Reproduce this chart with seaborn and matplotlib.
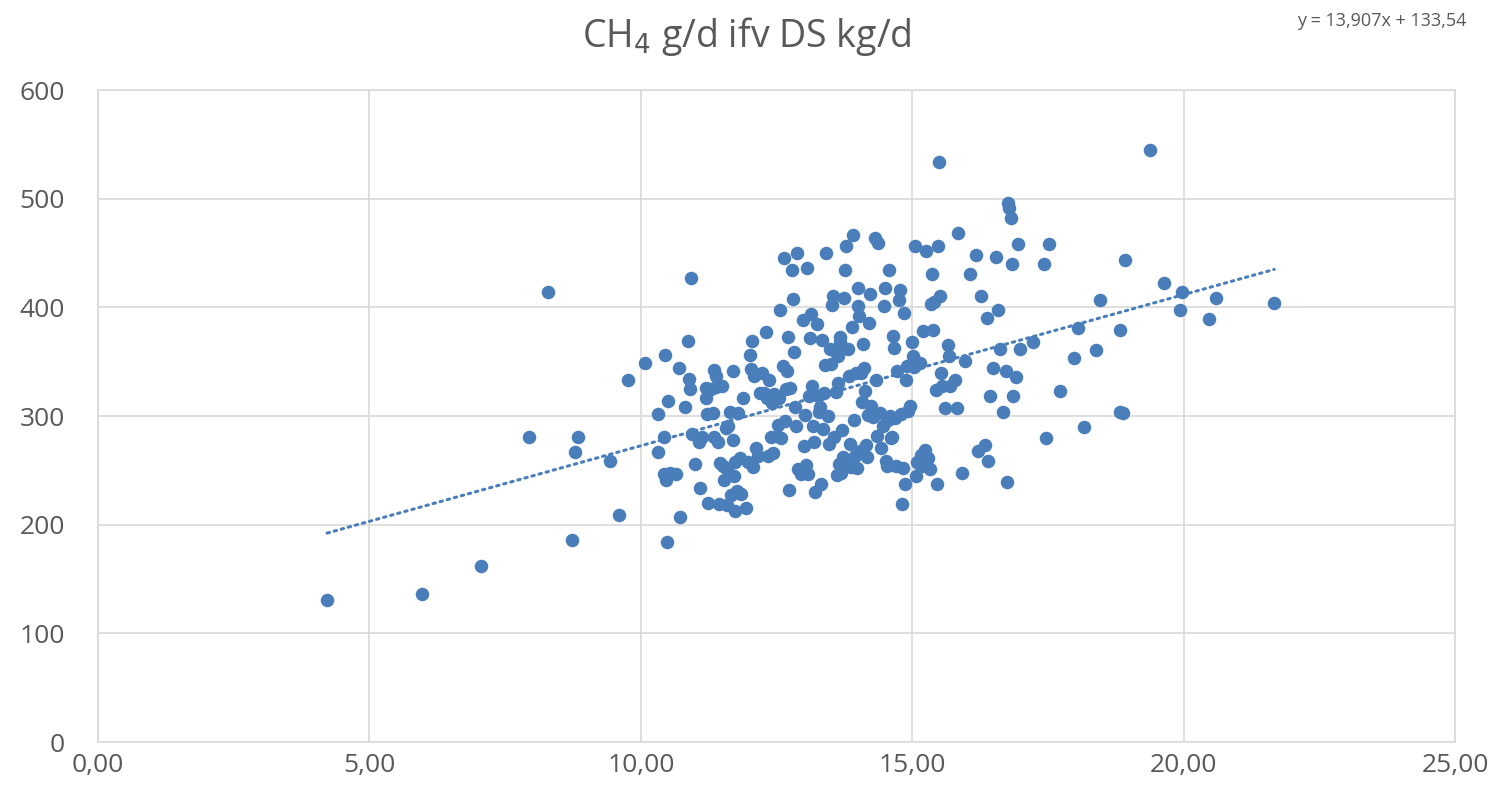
import numpy as np
import pandas as pd
import matplotlib
matplotlib.use("Agg")
import matplotlib.pyplot as plt
import seaborn as sns
from matplotlib.ticker import FuncFormatter

# DS kg/d  vs  CH4 g/d
ds_kg = [
    4.22, 5.97, 7.06, 8.29, 7.94, 8.73, 8.79, 8.85, 9.60, 9.43, 9.76, 10.08, 10.32, 10.32,
    10.45, 10.50, 10.43, 10.43, 10.46, 10.48, 10.54, 10.65, 10.70, 10.72, 10.81, 10.87,
    10.89, 10.90, 10.93, 10.94, 11.00, 11.07, 11.09, 11.13, 11.20, 11.20, 11.22, 11.24,
    11.29, 11.33, 11.35, 11.35, 11.39, 11.39, 11.42, 11.44, 11.46, 11.50, 11.51, 11.53,
    11.57, 11.59, 11.59, 11.61, 11.63, 11.64, 11.66, 11.70, 11.70, 11.72, 11.74, 11.74,
    11.77, 11.79, 11.83, 11.85, 11.88, 11.94, 11.97, 12.01, 12.03, 12.05, 12.07, 12.09,
    12.12, 12.16, 12.20, 12.23, 12.27, 12.31, 12.32, 12.34, 12.36, 12.40, 12.42, 12.44,
    12.45, 12.51, 12.53, 12.55, 12.56, 12.58, 12.62, 12.64, 12.66, 12.68, 12.69, 12.71,
    12.73, 12.75, 12.79, 12.80, 12.82, 12.84, 12.86, 12.88, 12.90, 12.95, 12.99, 13.01,
    13.03, 13.05, 13.06, 13.08, 13.10, 13.12, 13.14, 13.15, 13.17, 13.19, 13.21, 13.25,
    13.26, 13.28, 13.30, 13.32, 13.34, 13.36, 13.38, 13.39, 13.41, 13.45, 13.47, 13.49,
    13.50, 13.52, 13.54, 13.56, 13.58, 13.60, 13.61, 13.63, 13.63, 13.65, 13.67, 13.67,
    13.69, 13.71, 13.73, 13.74, 13.76, 13.78, 13.80, 13.82, 13.84, 13.85, 13.87, 13.89,
    13.91, 13.93, 13.95, 13.96, 13.98, 14.00, 14.00, 14.02, 14.04, 14.06, 14.08, 14.10,
    14.11, 14.13, 14.15, 14.17, 14.19, 14.21, 14.22, 14.24, 14.28, 14.31, 14.33, 14.35,
    14.37, 14.41, 14.43, 14.46, 14.48, 14.50, 14.52, 14.54, 14.55, 14.57, 14.59, 14.61,
    14.63, 14.65, 14.66, 14.68, 14.70, 14.72, 14.76, 14.78, 14.80, 14.81, 14.83, 14.85,
    14.87, 14.89, 14.90, 14.92, 14.96, 15.00, 15.01, 15.03, 15.05, 15.07, 15.09, 15.11,
    15.14, 15.16, 15.18, 15.20, 15.24, 15.25, 15.29, 15.33, 15.35, 15.37, 15.38, 15.40,
    15.44, 15.46, 15.48, 15.49, 15.51, 15.53, 15.55, 15.60, 15.66, 15.68, 15.70, 15.79,
    15.83, 15.84, 15.92, 15.97, 16.06, 16.18, 16.21, 16.27, 16.34, 16.38, 16.40, 16.43,
    16.49, 16.54, 16.58, 16.62, 16.67, 16.73, 16.75, 16.77, 16.78, 16.82, 16.84, 16.86,
    16.91, 16.95, 16.99, 17.23, 17.43, 17.47, 17.52, 17.72, 17.98, 18.05, 18.16, 18.39,
    18.46, 18.83, 18.83, 18.88, 18.92, 19.38, 19.64, 19.93, 19.97, 20.47, 20.60, 21.67,
]
ch4_g = [
    131, 136, 162, 414, 281, 186, 267, 281, 209, 259, 333, 349, 302, 267,
    356, 314, 281, 247, 241, 184, 248, 247, 344, 207, 308, 369,
    334, 325, 427, 283, 256, 276, 234, 281, 317, 326, 302, 220,
    325, 303, 281, 342, 337, 327, 276, 219, 257, 328, 254, 241,
    289, 251, 218, 291, 247, 304, 227, 278, 341, 245, 258, 213,
    231, 303, 261, 228, 317, 215, 258, 356, 343, 369, 253, 337,
    271, 263, 321, 340, 321, 377, 317, 263, 333, 281, 312, 266,
    320, 282, 292, 317, 398, 280, 346, 445, 295, 325, 341, 373,
    232, 326, 434, 408, 359, 308, 291, 450, 251, 247, 388, 272,
    301, 255, 436, 247, 318, 372, 394, 328, 291, 276, 230, 385,
    318, 304, 308, 237, 370, 288, 321, 347, 450, 300, 274, 362,
    348, 402, 410, 281, 360, 322, 246, 355, 330, 256, 373, 368,
    248, 287, 262, 409, 434, 456, 254, 362, 337, 274, 253, 382,
    467, 296, 263, 340, 252, 418, 401, 392, 268, 340, 313, 366,
    344, 323, 273, 262, 301, 386, 412, 309, 299, 464, 333, 282,
    459, 303, 271, 291, 401, 418, 259, 254, 296, 434, 300, 280,
    281, 374, 363, 298, 254, 341, 407, 416, 302, 219, 252, 395,
    237, 333, 346, 305, 309, 368, 355, 345, 456, 245, 258, 257,
    349, 264, 254, 378, 269, 452, 261, 251, 403, 431, 379, 405,
    324, 237, 456, 534, 410, 340, 328, 307, 365, 355, 328, 333,
    307, 468, 248, 351, 431, 448, 268, 410, 273, 390, 259, 318,
    344, 446, 398, 362, 304, 341, 239, 496, 491, 482, 440, 318,
    336, 458, 362, 368, 440, 280, 458, 323, 353, 381, 290, 361,
    407, 379, 304, 303, 444, 545, 422, 398, 414, 389, 409, 404,
]

# trendline from the equation shown on the chart
slope = 13.907
intercept = 133.54

df = pd.DataFrame({"DS": ds_kg, "CH4": ch4_g})

sns.set_style("whitegrid")
plt.rcParams['font.family'] = ['Open Sans', 'DejaVu Sans']

blue = "#4A7EBB"
grey_txt = "#595959"
grid_col = "#D9D9D9"

fig = plt.figure(figsize=(14.95, 8.01), dpi=100)
ax = fig.add_axes([98 / 1495, 59 / 801, 1357 / 1495, 652 / 801])

sns.scatterplot(data=df, x="DS", y="CH4", ax=ax, color=blue, s=95,
                linewidth=0, zorder=3, legend=False)

xs = np.array([df["DS"].min(), df["DS"].max()])
ax.plot(xs, slope * xs + intercept, color=blue, linewidth=2.2,
        linestyle=(0, (0.8, 1.6)), dash_capstyle="round", zorder=2)

ax.set_xlim(0, 25)
ax.set_ylim(0, 600)
ax.set_xticks([0, 5, 10, 15, 20, 25])
ax.set_yticks([0, 100, 200, 300, 400, 500, 600])
ax.xaxis.set_major_formatter(FuncFormatter(lambda v, p: f"{v:.2f}".replace(".", ",")))
ax.yaxis.set_major_formatter(FuncFormatter(lambda v, p: f"{int(v)}"))
ax.tick_params(axis="both", length=0, labelsize=19, colors=grey_txt)
ax.tick_params(axis="y", pad=24)
ax.tick_params(axis="x", pad=8)
ax.set_xlabel("")
ax.set_ylabel("")
ax.grid(True, color=grid_col, linewidth=1.2)
for sp in ax.spines.values():
    sp.set_color(grid_col)
    sp.set_linewidth(1.2)

fig.text(0.4997, 1 - 36 / 801, "CH$_4$ g/d ifv DS kg/d", ha="center", va="center",
         fontsize=27, color=grey_txt)
fig.text(1382 / 1495, 1 - 21 / 801, "y = 13,907x + 133,54", ha="center", va="center",
         fontsize=13, color=grey_txt)

plt.savefig("out.png", dpi=100)
